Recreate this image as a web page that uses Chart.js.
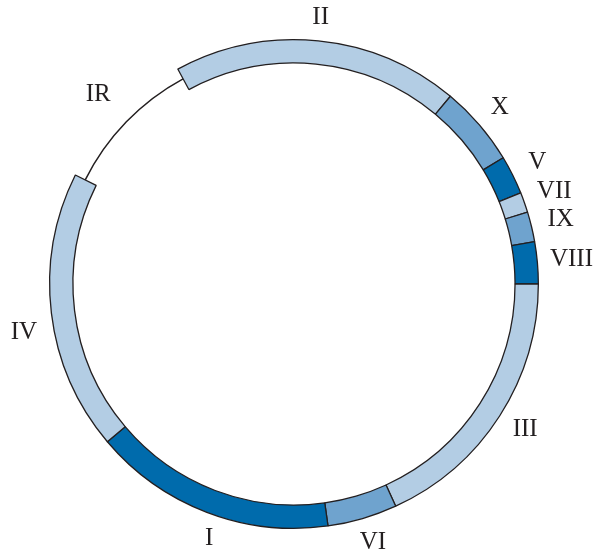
<!DOCTYPE html>
<html>
<head>
<meta charset="utf-8">
<script src="https://cdn.jsdelivr.net/npm/chart.js@4.4.0/dist/chart.umd.min.js"></script>
<style>
  html, body { margin: 0; padding: 0; background: #fff; }
  #wrap { position: relative; width: 599px; height: 559px; }
  #wrap canvas { position: absolute; left: 0; top: 0; }
</style>
</head>
<body>
<div id="wrap">
  <canvas id="ringChart" width="599" height="559"></canvas>
  <canvas id="lineChart" width="599" height="559"></canvas>
</div>
<script>
// regions going clockwise, starting at the left end of II
const regions = ['II', 'X', 'V', 'VII', 'IX', 'VIII', 'III', 'VI', 'I', 'IV', 'IR']
// arc length of each region (degrees of the circle)
const spans = [68.2, 19.1, 9.2, 4.8, 7.1, 10, 65.4, 16.6, 57.8, 66.7, 35.1]
// shade of each region
const shades = ['light', 'mid', 'dark', 'light', 'mid', 'dark', 'light', 'mid', 'dark', 'light', 'gap']
const firstAngle = -28.4

const palette = {
    light: '#b3cde4',
    mid: '#6fa3ce',
    dark: '#006bac',
    gap: 'rgba(0,0,0,0)'
}
const ink = '#231f20'

const padding = { left: 49, right: 60, top: 39, bottom: 30 }
// small angular nudge (deg) of a few labels away from the arc middle
const labelNudge = { I: -2.5, IV: -3.3, VI: -0.7, III: -0.5 }

const labelPlugin = {
    id: 'ringLabels',
    afterDatasetsDraw(chart) {
        const ctx = chart.ctx
        const meta = chart.getDatasetMeta(0)
        ctx.save()
        ctx.font = '25px "Liberation Serif", "Times New Roman", serif'
        ctx.fillStyle = ink
        ctx.textAlign = 'center'
        ctx.textBaseline = 'middle'
        meta.data.forEach((arc, i) => {
            const p = arc.getProps(['x', 'y', 'startAngle', 'endAngle', 'outerRadius'], true)
            const a = (p.startAngle + p.endAngle) / 2 + (labelNudge[regions[i]] || 0) * Math.PI / 180
            const w = ctx.measureText(regions[i]).width
            const r = p.outerRadius + 23.5 + 0.25 * w * Math.abs(Math.cos(a))
            ctx.fillText(regions[i], p.x + r * Math.cos(a), p.y + r * Math.sin(a))
        })
        ctx.restore()
    }
}

const common = {
    responsive: false,
    animation: false,
    events: [],
    rotation: firstAngle,
    layout: { padding: padding },
    plugins: { legend: { display: false }, tooltip: { enabled: false } }
}

// main ring
new Chart(document.getElementById('ringChart'), {
    type: 'doughnut',
    data: {
        labels: regions,
        datasets: [{
            data: spans,
            backgroundColor: shades.map(s => palette[s]),
            borderColor: ink,
            borderWidth: shades.map(s => s === 'gap' ? 0 : 1.3)
        }]
    },
    options: {
        ...common,
        cutout: (221 / 244.3 * 100) + '%'
    },
    plugins: [labelPlugin]
})

// thin line through the IR gap
new Chart(document.getElementById('lineChart'), {
    type: 'doughnut',
    data: {
        labels: regions,
        datasets: [{
            data: spans,
            backgroundColor: shades.map(s => s === 'gap' ? ink : 'rgba(0,0,0,0)'),
            borderWidth: 0
        }]
    },
    options: {
        ...common,
        radius: 234,
        cutout: (232.5 / 234 * 100) + '%'
    }
})
</script>
</body>
</html>
